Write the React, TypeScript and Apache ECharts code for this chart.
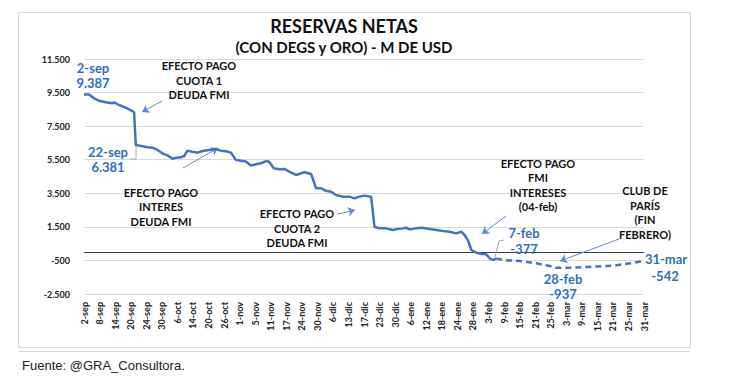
import React, { useEffect, useRef } from "react";
import * as echarts from "echarts";

// Tick labels of the category-like x axis (one every ~4 business days)
const tickLabels = [
  "2-sep", "8-sep", "14-sep", "20-sep", "24-sep", "30-sep", "6-oct", "14-oct", "20-oct", "26-oct",
  "1-nov", "5-nov", "11-nov", "17-nov", "24-nov", "30-nov", "6-dic", "13-dic", "17-dic", "23-dic",
  "30-dic", "6-ene", "12-ene", "18-ene", "24-ene", "28-ene", "3-feb", "9-feb", "15-feb", "21-feb",
  "25-feb", "3-mar", "9-mar", "15-mar", "21-mar", "25-mar", "31-mar",
];

// Observed reserves (position measured in tick steps from 2-sep), M USD
const solidPos = [
  0, 0.32, 0.64, 0.97, 1.4, 1.82, 1.93, 2.25, 2.68, 3.11, 3.22, 3.33, 3.76, 4.08, 4.4, 4.72,
  5.04, 5.36, 5.69, 5.9, 6.23, 6.44, 6.65, 6.97, 7.3, 7.62, 8.05, 8.48, 8.8, 9.12, 9.45, 9.77,
  10.09, 10.4, 10.73, 11.05, 11.38, 11.7, 11.9, 12.2, 12.56, 12.88, 13.2, 13.63, 14.17, 14.6,
  14.92, 15.24, 15.56, 15.89, 16.2, 16.63, 17.06, 17.39, 17.7, 18.03, 18.46, 18.67, 19.0, 19.42,
  19.85, 20.17, 20.5, 20.7, 20.93, 21.36, 21.78, 22.2, 22.65, 23.07, 23.5, 23.93, 24.25, 24.47,
  24.68, 24.9, 25.22, 25.54, 25.86, 26.08, 26.29, 26.5,
];
const solidVal = [
  9387, 9390, 9160, 9015, 8920, 8860, 8920, 8760, 8600, 8400, 8320, 6381, 6300, 6240, 6220, 6080,
  5880, 5760, 5560, 5620, 5640, 5720, 6040, 5980, 5920, 6020, 6080, 6140, 6040, 6000, 5920, 5480,
  5440, 5400, 5160, 5230, 5290, 5420, 5380, 4990, 4930, 4950, 4790, 4590, 4750, 4650,
  3800, 3800, 3650, 3590, 3400, 3300, 3300, 3200, 3300, 3360, 3300, 1510, 1410, 1410,
  1310, 1370, 1410, 1450, 1350, 1410, 1450, 1370, 1310, 1250, 1210, 1110, 1210, 1015,
  700, 120, -40, -117, -136, -373, -475, -377,
];

// Projection (dashed)
const projPos = [26.5, 26.94, 28, 29.08, 29.94, 30.37, 31.44, 32.73, 34.02, 35.1, 36];
const projVal = [-377, -475, -534, -673, -832, -937, -930, -874, -814, -673, -542];

const yTicks = { min: -2500, max: 11500, step: 2000 };

const BLUE = "#4472c4";
const LBLUE = "#2f6fc0";
const FONT = "Lato, 'Noto Sans', sans-serif";

function fmt(v: number) {
  const s = Math.abs(v).toString().replace(/\B(?=(\d{3})+(?!\d))/g, ".");
  return (v < 0 ? "-" : "") + s;
}

export default function App() {
  const ref = useRef<HTMLDivElement>(null);
  useEffect(() => {
    if (!ref.current) return;
    const chart = echarts.init(ref.current, null, { renderer: "svg" });
    const txt = (text: string, x: number, y: number, opts: any = {}) => ({
      type: "text",
      x,
      y,
      z: 100,
      silent: true,
      style: {
        text,
        align: "center",
        verticalAlign: "middle",
        fontFamily: FONT,
        fontWeight: "bold",
        fontSize: 11,
        lineHeight: 14.5,
        fill: "#111",
        ...opts,
      },
    });
    const arrow = (x1: number, y1: number, x2: number, y2: number) => [
      { x: x1, y: y1, symbol: "none" },
      { x: x2, y: y2, symbol: "arrow" },
    ];
    chart.setOption({
      animation: false,
      grid: { left: 84, right: 93, top: 59, bottom: 88 },
      xAxis: {
        type: "value",
        min: 0,
        max: tickLabels.length - 1,
        interval: 1,
        axisLine: { show: false },
        axisTick: { show: false },
        splitLine: { show: false },
        axisLabel: {
          rotate: 90,
          margin: 8,
          fontSize: 9,
          fontWeight: "bold",
          fontFamily: FONT,
          color: "#222",
          formatter: (v: number) => tickLabels[Math.round(v)] ?? "",
        },
      },
      yAxis: {
        type: "value",
        min: yTicks.min,
        max: yTicks.max,
        interval: yTicks.step,
        axisLine: { show: false },
        axisTick: { show: false },
        splitLine: { lineStyle: { color: "#d9d9d9", width: 1 } },
        axisLabel: {
          fontSize: 9,
          fontWeight: "bold",
          fontFamily: FONT,
          color: "#222",
          margin: 14,
          formatter: (v: number) => fmt(v),
        },
      },
      series: [
        {
          type: "line",
          data: solidPos.map((p, i) => [p, solidVal[i]]),
          showSymbol: false,
          lineStyle: { color: BLUE, width: 2.5 },
          itemStyle: { color: BLUE },
          z: 5,
          markLine: {
            silent: true,
            animation: false,
            symbol: ["none", "none"],
            label: { show: false },
            lineStyle: { color: "#404040", width: 1, type: "solid" },
            data: [{ yAxis: 0 }],
          },
        },
        {
          type: "line",
          data: projPos.map((p, i) => [p, projVal[i]]),
          showSymbol: false,
          lineStyle: { color: BLUE, width: 2.5, type: [6, 4] },
          itemStyle: { color: BLUE },
          z: 5,
          markLine: {
            silent: true,
            animation: false,
            symbolSize: 7,
            label: { show: false },
            lineStyle: { color: "#5b8bd6", width: 1, type: "solid" },
            data: [
              arrow(162, 101, 142, 112),
              arrow(183, 168, 218, 148),
              arrow(338, 214, 355, 210),
              arrow(506, 216, 482, 234),
              arrow(619, 239, 560, 261),
            ],
          },
        },
      ],
      graphic: [
        { type: "rect", silent: true, z: 0, shape: { x: 18.5, y: 12.5, width: 672, height: 335 }, style: { fill: "none", stroke: "#d9d9d9", lineWidth: 1 } },
        { type: "line", silent: true, z: 0, shape: { x1: 18, y1: 351.5, x2: 690, y2: 351.5 }, style: { stroke: "#d9d9d9", lineWidth: 1 } },
        txt("RESERVAS NETAS", 344, 26, { fontSize: 18, fill: "#111" }),
        txt("(CON DEGS y ORO) - M DE USD", 344, 47, { fontSize: 15, fill: "#111" }),
        txt("Fuente: @GRA_Consultora.", 22, 365, { align: "left", fontWeight: "normal", fontSize: 13, fontFamily: "'Liberation Sans', Arial, sans-serif", fill: "#222" }),
        txt("2-sep", 93, 68, { fontSize: 13, fill: LBLUE }),
        txt(fmt(9387), 93, 83, { fontSize: 13, fill: LBLUE }),
        txt("22-sep", 108, 152, { fontSize: 13, fill: LBLUE }),
        txt(fmt(6381), 108, 167, { fontSize: 13, fill: LBLUE }),
        txt("7-feb", 524, 233, { fontSize: 13, fill: LBLUE }),
        txt(fmt(-377), 524, 249, { fontSize: 13, fill: LBLUE }),
        txt("28-feb", 563, 279, { fontSize: 13, fill: LBLUE }),
        txt(fmt(-937), 563, 294, { fontSize: 13, fill: LBLUE }),
        txt("31-mar", 666, 259, { fontSize: 13, fill: LBLUE }),
        txt(fmt(-542), 665, 276, { fontSize: 13, fill: LBLUE }),
        txt("EFECTO PAGO\nCUOTA 1\nDEUDA FMI", 199, 80),
        txt("EFECTO PAGO\nINTERES\nDEUDA FMI", 161, 206.5),
        txt("EFECTO PAGO\nCUOTA 2\nDEUDA FMI", 297, 228),
        txt("EFECTO PAGO\nFMI\nINTERESES\n(04-feb)", 538, 185),
        txt("CLUB DE\nPARÍS\n(FIN\nFEBRERO)", 645, 212.5),
        { type: "polyline", silent: true, z: 100, shape: { points: [[130, 159], [136, 159], [136, 146]] }, style: { stroke: "#a6a6a6", lineWidth: 1, fill: "none" } },
        { type: "polyline", silent: true, z: 100, shape: { points: [[504, 240], [499, 241], [495, 257]] }, style: { stroke: "#a6a6a6", lineWidth: 1, fill: "none" } },
      ],
    });
    return () => chart.dispose();
  }, []);
  return <div ref={ref} style={{ position: "fixed", left: 0, top: 0, width: 737, height: 382, background: "#fff" }} />;
}
